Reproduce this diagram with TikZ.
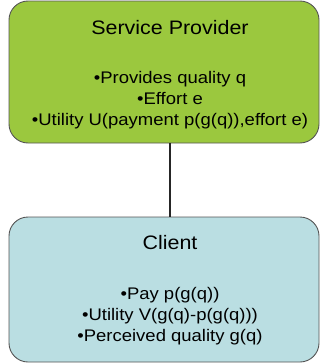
\documentclass[tikz,border=0pt]{standalone}
\usepackage{fontspec}
\setmainfont[FakeStretch=1.1]{Liberation Sans}
\definecolor{provgreen}{RGB}{155,200,62}
\definecolor{clientblue}{RGB}{186,222,226}
\definecolor{boxline}{RGB}{85,85,85}

\begin{document}
\begin{tikzpicture}[x=1pt, y=-1pt,
  party/.style={rectangle, rounded corners=19pt, draw=boxline, line width=0.9pt, minimum width=310pt, inner sep=0pt},
  provider/.style={party, fill=provgreen, minimum height=142pt},
  client/.style={party, fill=clientblue, minimum height=145pt},
  title/.style={font=\fontsize{19.5}{22}\selectfont},
  items/.style={align=center, font=\fontsize{16.8}{20.8}\selectfont},
  link/.style={line width=1.4pt, draw=black!85}
]
\useasboundingbox (0,0) rectangle (320,364);
\node[provider] (sp) at (164,72) {};
\node[client] (cl) at (164,289.5) {};
\node[title] (sptitle) at (170,28) {Service Provider};
\node[items] (spitems) at (170,100) {•Provides quality q\\•Effort e\\•Utility U(payment p(g(q)),effort e)};
\node[title] (cltitle) at (170,243) {Client};
\node[items] (clitems) at (170,316) {•Pay p(g(q))\\•Utility V(g(q)-p(g(q)))\\•Perceived quality g(q)};
\draw[link] (sp.south -| sptitle) -- (cl.north -| cltitle);
\end{tikzpicture}
\end{document}
